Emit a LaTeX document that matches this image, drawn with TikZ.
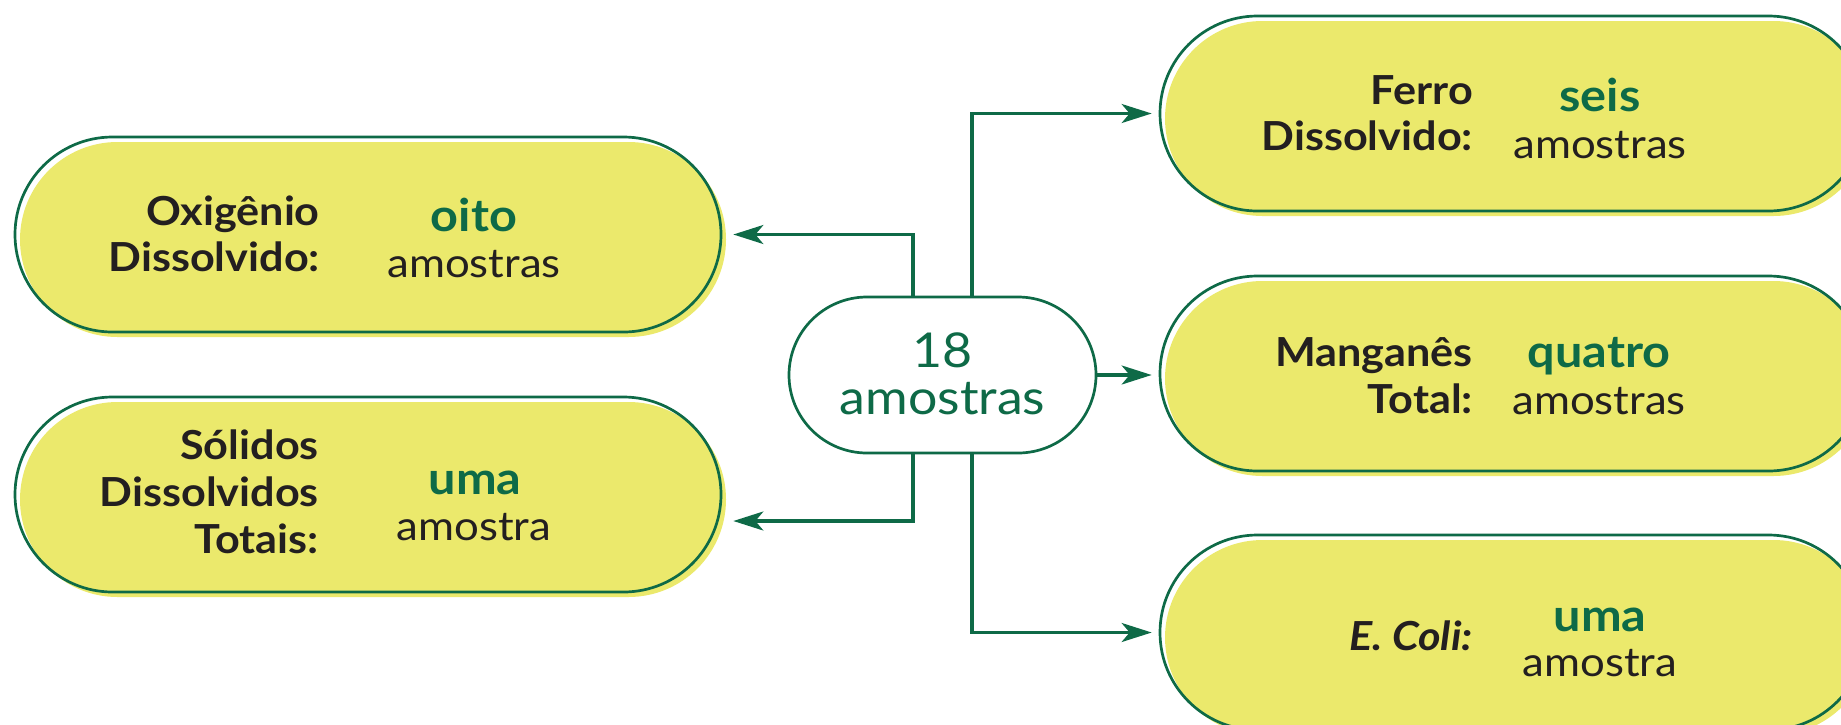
\documentclass[tikz,border=0pt]{standalone}
\usepackage{fontspec}
\setmainfont{Lato}[FakeStretch=1.08]
\usetikzlibrary{arrows.meta,calc}
\definecolor{leaf}{RGB}{14,106,71}
\definecolor{lemon}{RGB}{235,233,108}
\definecolor{ink}{RGB}{35,31,32}

\begin{document}
\begin{tikzpicture}[x=1pt,y=-1pt,
  pill/.style={rectangle, rounded corners=97.5pt, minimum width=706pt, minimum height=195pt, inner sep=0pt},
  pillfill/.style={pill, fill=lemon},
  pillline/.style={pill, draw=leaf, line width=2.7pt},
  hub/.style={rectangle, rounded corners=78pt, minimum width=307pt, minimum height=156pt, inner sep=0pt, draw=leaf, line width=2.7pt, fill=white},
  lbl/.style={anchor=base east, inner sep=0pt, text=ink, font=\fontsize{40}{48}\selectfont\bfseries},
  val/.style={anchor=base, inner sep=0pt, text=leaf, font=\fontsize{45}{54}\selectfont\bfseries},
  qty/.style={anchor=base, inner sep=0pt, text=ink, font=\fontsize{40.5}{48}\selectfont},
  hubtxt/.style={anchor=base, inner sep=0pt, text=leaf, font=\fontsize{48}{56}\selectfont},
  conn/.style={draw=leaf, line width=3.1pt, -{Stealth[length=30pt, width=19pt, inset=8pt]}}
]
\clip (0,0) rectangle (1841,724);

% yellow pills, each fill shifted down-right of its outline
\node[pillfill] (oxf) at (373,239.5) {};
\node[pillline] (ox)  at (368,234.5) {};
\node[pillfill] (sof) at (373,499.5) {};
\node[pillline] (so)  at (368,494.5) {};
\node[pillfill] (fef) at (1518,118.5) {};
\node[pillline] (fe)  at (1513,113.5) {};
\node[pillfill] (mnf) at (1518,378.5) {};
\node[pillline] (mn)  at (1513,373.5) {};
\node[pillfill] (ecf) at (1518,637.5) {};
\node[pillline] (ec)  at (1513,632.5) {};

% central node
\node[hub] (c) at (942.5,375) {};
\node[hubtxt] (c1) at (942.5,367) {18};
\node[hubtxt] (c2) at (942.5,414) {amostras};

% Oxigenio
\node[lbl] (ox1) at (320,225) {Oxigênio};
\node[lbl] (ox2) at (320,271) {Dissolvido:};
\node[val] (ox3) at (474,231.7) {oito};
\node[qty] (ox4) at (474,277) {amostras};

% Solidos
\node[lbl] (so1) at (319,459.3) {Sólidos};
\node[lbl] (so2) at (319,506) {Dissolvidos};
\node[lbl] (so3) at (319,553.3) {Totais:};
\node[val] (so4) at (475,494) {uma};
\node[qty] (so5) at (474,540) {amostra};

% Ferro
\node[lbl] (fe1) at (1473,104.3) {Ferro};
\node[lbl] (fe2) at (1473,150) {Dissolvido:};
\node[val] (fe3) at (1600,111) {seis};
\node[qty] (fe4) at (1600,158) {amostras};

% Manganes
\node[lbl] (mn1) at (1473,366.7) {Manganês};
\node[lbl] (mn2) at (1473,413) {Total:};
\node[val] (mn3) at (1599,367.7) {quatro};
\node[qty] (mn4) at (1599,414) {amostras};

% E. coli
\node[lbl, font=\fontsize{40}{48}\selectfont\bfseries\itshape] (ec1) at (1473,650) {E. Coli:};
\node[val] (ec2) at (1600,631.7) {uma};
\node[qty] (ec3) at (1600,676.7) {amostra};

% connectors
\draw[conn] ([xshift=-29.5pt]c.north) |- ($(ox.east)+(11,0)$);
\draw[conn] ([xshift=-29.5pt]c.south) |- ($(so.east)+(11,26.5)$);
\draw[conn] ([xshift=29.5pt]c.north) |- ($(fe.west)+(-7,0)$);
\draw[conn] (c.east) -- ($(c.east -| mn.west)+(-7,0)$);
\draw[conn] ([xshift=29.5pt]c.south) |- ($(ec.west)+(-7,0)$);
\end{tikzpicture}
\end{document}
